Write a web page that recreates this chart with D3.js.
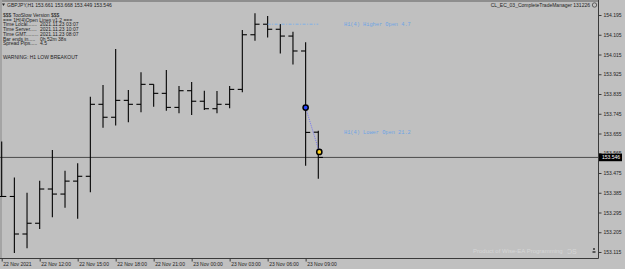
<!DOCTYPE html>
<html>
<head>
<meta charset="utf-8">
<script src="https://cdn.jsdelivr.net/npm/d3@7"></script>
<style>
  html, body { margin: 0; padding: 0; background: #c0c0c0; overflow: hidden; }
  text { font-family: "Liberation Sans", "DejaVu Sans", sans-serif; }
</style>
</head>
<body>
<div id="chart"></div>
<script>
// GBPJPY H1 bars
const barTimes = [
  '22.11 09:00', '22.11 10:00', '22.11 11:00', '22.11 12:00', '22.11 13:00', '22.11 14:00',
  '22.11 15:00', '22.11 16:00', '22.11 17:00', '22.11 18:00', '22.11 19:00', '22.11 20:00',
  '22.11 21:00', '22.11 22:00', '22.11 23:00', '23.11 00:00', '23.11 01:00', '23.11 02:00',
  '23.11 03:00', '23.11 04:00', '23.11 05:00', '23.11 06:00', '23.11 07:00', '23.11 08:00',
  '23.11 09:00', '23.11 10:00'
];
const opens = [153.368, 153.368, 153.197, 153.246, 153.402, 153.379, 153.438, 153.460, 153.788, 153.729,
  153.806, 153.788, 153.879, 153.838, 153.774, 153.850, 153.802, 153.768, 153.788, 153.856,
  154.105, 154.153, 154.130, 154.099, 154.031, 153.661];
const highs = [153.618, 153.455, 153.385, 153.440, 153.580, 153.485, 153.519, 153.823, 153.876, 154.040,
  153.853, 153.934, 153.879, 153.944, 153.871, 153.890, 153.850, 153.849, 153.871, 154.127,
  154.203, 154.190, 154.154, 154.119, 154.071, 153.668];
const lows = [153.366, 153.110, 153.132, 153.220, 153.273, 153.317, 153.267, 153.387, 153.681, 153.692,
  153.706, 153.752, 153.777, 153.759, 153.747, 153.739, 153.762, 153.747, 153.770, 153.843,
  154.078, 154.093, 154.020, 153.970, 153.508, 153.449];
const closes = [153.368, 153.197, 153.246, 153.402, 153.379, 153.438, 153.460, 153.788, 153.729, 153.806,
  153.788, 153.879, 153.838, 153.774, 153.850, 153.802, 153.768, 153.788, 153.856, 154.105,
  154.153, 154.130, 154.099, 154.031, 153.660, 153.546];

const priceTicks = [154.195, 154.105, 154.015, 153.925, 153.835, 153.745, 153.655,
  153.565, 153.475, 153.385, 153.295, 153.205, 153.115];
const timeTickBars = ['22.11 09:00', '22.11 12:00', '22.11 15:00', '22.11 18:00', '22.11 21:00',
  '23.11 00:00', '23.11 03:00', '23.11 06:00', '23.11 09:00'];
const timeTickLabels = ['22 Nov 2021', '22 Nov 12:00', '22 Nov 15:00', '22 Nov 18:00', '22 Nov 21:00',
  '23 Nov 00:00', '23 Nov 03:00', '23 Nov 06:00', '23 Nov 09:00'];

const headerText = 'GBPJPY,H1  153.661 153.668 153.449 153.546';
const eaText = 'CL_EC_03_CompleteTradeManager 131226';
const infoLabels = ['$$$ TooSlow Version $$$', '=== 1H(4)Open Lines v1.2 ===', 'Time Local.......',
  'Time Server.....', 'Time GMT.........', 'Bar ends in.....', 'Spread Pips.....'];
const infoValues = ['', '', '2021.11.23 03:07', '2021.11.23 10:07', '2021.11.23 08:07', '0h 52m 38s', '4.5'];
const warningText = 'WARNING: H1 LOW BREAKOUT';

const lastPrice = 153.546;
const higherOpen = { price: 154.153, from: '23.11 06:00', label: 'H1(4) Higher Open 4.7' };
const lowerOpen = { price: 153.661, label: 'H1(4) Lower Open 21.2' };
const markerPts = [
  { time: '23.11 09:00', price: 153.773, fill: '#2846ff' },
  { time: '23.11 10:00', price: 153.571, fill: '#ffd21e' }
];

const W = 625, H = 269;
const plotRight = 598, plotBottom = 258;

const svg = d3.select('#chart').append('svg')
  .attr('width', W)
  .attr('height', H);

svg.append('rect').attr('width', W).attr('height', H).attr('fill', '#c0c0c0');

const x = d3.scalePoint()
  .domain(barTimes)
  .range([1.7, 318.3]);

const y = d3.scaleLinear()
  .domain([153.115, 154.195])
  .range([252, 15]);

// frame
svg.append('rect').attr('x', 0).attr('y', 0).attr('width', plotRight).attr('height', 2).attr('fill', '#8e8e8e');
svg.append('rect').attr('x', 0).attr('y', 0).attr('width', 2).attr('height', plotBottom).attr('fill', '#a4a4a4');
svg.append('line')
  .attr('x1', plotRight + 0.5).attr('x2', plotRight + 0.5)
  .attr('y1', 0).attr('y2', plotBottom + 0.5)
  .attr('stroke', '#3a3a3a');
svg.append('line')
  .attr('x1', 0).attr('x2', plotRight + 0.5)
  .attr('y1', plotBottom + 0.5).attr('y2', plotBottom + 0.5)
  .attr('stroke', '#3a3a3a');

// price axis
const yAxis = d3.axisRight(y)
  .tickValues(priceTicks)
  .tickSize(3)
  .tickPadding(2)
  .tickFormat(d3.format('.3f'));
const yAxisG = svg.append('g')
  .attr('transform', `translate(${plotRight + 0.5},0)`)
  .call(yAxis);
yAxisG.select('.domain').remove();
yAxisG.selectAll('line').attr('stroke', '#3a3a3a');
yAxisG.selectAll('text')
  .attr('fill', '#1e1e1e')
  .style('font-size', '5px')
  .style('font-family', '"Liberation Sans", sans-serif');

// time axis
const xAxis = d3.axisBottom(x)
  .tickValues(timeTickBars)
  .tickSize(3)
  .tickPadding(1)
  .tickFormat((d, i) => timeTickLabels[i]);
const xAxisG = svg.append('g')
  .attr('transform', `translate(0,${plotBottom + 0.5})`)
  .call(xAxis);
xAxisG.select('.domain').remove();
xAxisG.selectAll('line').attr('stroke', '#3a3a3a');
xAxisG.selectAll('text')
  .attr('text-anchor', 'start')
  .attr('dx', 1)
  .attr('fill', '#1e1e1e')
  .style('font-size', '5px')
  .style('font-family', '"Liberation Sans", sans-serif');

// current price line
svg.append('line')
  .attr('x1', 0).attr('x2', plotRight)
  .attr('y1', y(lastPrice)).attr('y2', y(lastPrice))
  .attr('stroke', '#3c3c3c')
  .attr('stroke-width', 0.9);

// OHLC bars
const bars = barTimes.map((t, i) => ({ t, o: opens[i], h: highs[i], l: lows[i], c: closes[i] }));
const tick = 4.6;
const barG = svg.append('g').attr('class', 'bars')
  .attr('stroke', '#000')
  .attr('stroke-width', 1.1);

barG.selectAll('line.hl').data(bars).join('line')
  .attr('class', 'hl')
  .attr('x1', d => x(d.t)).attr('x2', d => x(d.t))
  .attr('y1', d => y(d.h)).attr('y2', d => y(d.l));
barG.selectAll('line.open').data(bars).join('line')
  .attr('class', 'open')
  .attr('x1', d => x(d.t) - tick).attr('x2', d => x(d.t))
  .attr('y1', d => y(d.o)).attr('y2', d => y(d.o));
barG.selectAll('line.close').data(bars).join('line')
  .attr('class', 'close')
  .attr('x1', d => x(d.t)).attr('x2', d => x(d.t) + tick)
  .attr('y1', d => y(d.c)).attr('y2', d => y(d.c));

// H1(4) open lines
svg.append('line')
  .attr('x1', x(higherOpen.from)).attr('x2', x(barTimes[barTimes.length - 1]))
  .attr('y1', y(higherOpen.price)).attr('y2', y(higherOpen.price))
  .attr('stroke', '#7fb0e6')
  .attr('stroke-width', 1)
  .attr('stroke-dasharray', '3,1.5,1,1.5');

svg.selectAll('text.openlbl').data([higherOpen, lowerOpen]).join('text')
  .attr('class', 'openlbl')
  .attr('x', 344)
  .attr('y', d => y(d.price) + 1.8)
  .attr('fill', '#6ea4e4')
  .style('font-family', '"Liberation Mono", "DejaVu Sans Mono", monospace')
  .style('font-size', '5.3px')
  .text(d => d.label);

// trade markers
svg.append('line')
  .attr('x1', x(markerPts[0].time)).attr('y1', y(markerPts[0].price))
  .attr('x2', x(markerPts[1].time) + 1).attr('y2', y(markerPts[1].price))
  .attr('stroke', '#6464ff')
  .attr('stroke-width', 0.8)
  .attr('stroke-dasharray', '1,1');
svg.selectAll('circle.mk').data(markerPts).join('circle')
  .attr('class', 'mk')
  .attr('cx', (d, i) => x(d.time) + i)
  .attr('cy', d => y(d.price))
  .attr('r', 2.6)
  .attr('fill', d => d.fill)
  .attr('stroke', '#000')
  .attr('stroke-width', 1.5);

// current price label
const lp = svg.append('g').attr('transform', `translate(${plotRight + 1},${y(lastPrice)})`);
lp.append('rect').attr('x', 0).attr('y', -3.8).attr('width', 23).attr('height', 7.6).attr('fill', '#000');
lp.append('text').attr('x', 3).attr('y', 1.8).attr('fill', '#fff')
  .style('font-size', '5px').text(d3.format('.3f')(lastPrice));

// header texts
svg.append('path')
  .attr('d', 'M2,3.5 L5,3.5 L3.5,6 Z')
  .attr('fill', '#222');
svg.append('text').attr('x', 7).attr('y', 7)
  .attr('fill', '#1e1e1e').style('font-size', '5px')
  .text(headerText);
svg.append('text').attr('x', 590).attr('y', 7).attr('text-anchor', 'end')
  .attr('fill', '#1e1e1e').style('font-size', '5px')
  .text(eaText);
svg.append('circle').attr('cx', 594.5).attr('cy', 5).attr('r', 2.2)
  .attr('fill', 'none').attr('stroke', '#333').attr('stroke-width', 0.7);

const info = svg.append('g').attr('fill', '#1e1e1e').style('font-size', '5px');
info.selectAll('text.lbl').data(infoLabels).join('text')
  .attr('class', 'lbl')
  .attr('x', 3)
  .attr('y', (d, i) => 17 + i * 4.7)
  .text(d => d);
info.selectAll('text.val').data(infoValues).join('text')
  .attr('class', 'val')
  .attr('x', 40)
  .attr('y', (d, i) => 17 + i * 4.7)
  .text(d => d);
info.append('text').attr('x', 3).attr('y', 59).text(warningText);

// watermark
svg.append('text').attr('x', 473).attr('y', 253)
  .attr('fill', '#d6d6d6').style('font-size', '6px')
  .text('Product of Wise-EA Programming');
svg.append('text').attr('x', 567).attr('y', 253.5)
  .attr('fill', '#d6d6d6').style('font-size', '7px')
  .text('\u0186S');
svg.append('path')
  .attr('d', 'M593,248 h2 v2 h-2 Z M592.5,251 h3 v2 h-3 Z')
  .attr('fill', '#555');
</script>
</body>
</html>
